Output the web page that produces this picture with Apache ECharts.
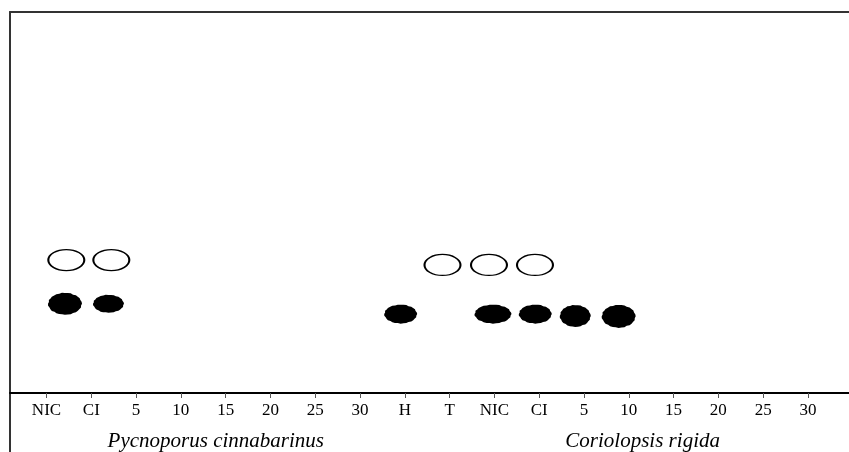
<!DOCTYPE html>
<html>
<head>
<meta charset="utf-8">
<script src="https://cdn.jsdelivr.net/npm/echarts@6/dist/echarts.min.js"></script>
<style>
html,body{margin:0;padding:0;background:#fff;}
#chart{width:849px;height:452px;}
</style>
</head>
<body>
<div id="chart"></div>
<script>
// ---- data ----
const categories = ['NIC','CI','5','10','15','20','25','30','H','T','NIC','CI','5','10','15','20','25','30'];
const groupNames = ['Pycnoporus cinnabarinus','Coriolopsis rigida'];
const groupCenters = [3.78, 13.31];
const openSpotX = [0.442, 1.447, 8.841, 9.879, 10.906];
const openSpotY = [0.349, 0.349, 0.336, 0.336, 0.336];
const solidSpotX = [0.413, 1.384, 7.908, 9.969, 10.913, 11.806, 12.775];
const solidSpotY = [0.234, 0.234, 0.207, 0.207, 0.207, 0.202, 0.201];

// ---- style ----
const FONT = "'Liberation Serif','Times New Roman',serif";
const X_MIN = -0.815, X_MAX = 17.917;
const openSize = [36, 21];
const solidSizes = [[34,22],[31,18],[33,19],[37,19],[33,19],[31,22],[34,23]];
const blobRadii = [1,0.96,1,0.97,0.99,1,0.95,1,0.98,1,0.96,0.99,1,0.95,1,0.98,0.96,1,0.99,0.95,1,0.97,1,0.98,
                   1,0.96,1,0.97,0.99,1,0.95,1,0.98,1,0.96,0.99];
function blobPath(){
  let s = 'path://';
  blobRadii.forEach((r,i)=>{
    const a = i*2*Math.PI/blobRadii.length;
    const x = (50 + 50*r*Math.cos(a)).toFixed(2);
    const y = (50 + 50*r*Math.sin(a)).toFixed(2);
    s += (i===0?'M':'L') + x + ' ' + y + ' ';
  });
  return s + 'Z';
}
const tickIdx = categories.map((_,i)=>i);

const chart = echarts.init(document.getElementById('chart'), null, {renderer:'canvas'});
chart.setOption({
  animation:false,
  backgroundColor:'#fff',
  grid:[
    {left:10, right:0, top:12, bottom:59},
    {left:10, right:0, top:12, bottom:0}
  ],
  xAxis:[
    { // main bottom axis
      type:'value', gridIndex:0, min:X_MIN, max:X_MAX, position:'bottom',
      axisLine:{show:true, onZero:false, lineStyle:{color:'#000', width:2}},
      axisTick:{show:true, customValues:tickIdx, length:5, lineStyle:{color:'#555', width:1}},
      axisLabel:{show:true, customValues:tickIdx, margin:9, color:'#000', fontFamily:FONT, fontSize:17,
        formatter:v=>categories[Math.round(v)]},
      splitLine:{show:false}
    },
    { // group labels
      type:'value', gridIndex:0, min:X_MIN, max:X_MAX, position:'bottom', offset:38,
      axisLine:{show:false}, axisTick:{show:false},
      axisLabel:{show:true, customValues:groupCenters, margin:0, color:'#000', fontFamily:FONT, fontSize:21, fontStyle:'italic',
        formatter:v=>groupNames[groupCenters.indexOf(v)]},
      splitLine:{show:false}
    },
    { // top border
      type:'value', gridIndex:0, min:X_MIN, max:X_MAX, position:'top',
      axisLine:{show:true, onZero:false, lineStyle:{color:'#333', width:2}},
      axisTick:{show:false}, axisLabel:{show:false}, splitLine:{show:false}
    },
    {
      type:'value', gridIndex:1, min:0, max:1, show:false
    }
  ],
  yAxis:[
    {type:'value', gridIndex:0, min:0, max:1, axisLine:{show:false}, axisTick:{show:false}, axisLabel:{show:false}, splitLine:{show:false}},
    {type:'value', gridIndex:1, min:0, max:1, position:'left',
      axisLine:{show:true, onZero:false, lineStyle:{color:'#333', width:2}},
      axisTick:{show:false}, axisLabel:{show:false}, splitLine:{show:false}}
  ],
  series:[
    {
      type:'scatter', xAxisIndex:0, yAxisIndex:0,
      data: openSpotX.map((x,i)=>[x, openSpotY[i]]),
      symbol:'circle', symbolSize:openSize,
      itemStyle:{color:'#fff', borderColor:'#000', borderWidth:1.6, opacity:1},
      emphasis:{disabled:true}
    },
    {
      type:'scatter', xAxisIndex:0, yAxisIndex:0,
      data: solidSpotX.map((x,i)=>[x, solidSpotY[i]]),
      symbol: blobPath(),
      symbolSize:(val, p)=>solidSizes[p.dataIndex],
      itemStyle:{color:'#000', opacity:1},
      emphasis:{disabled:true}
    }
  ]
});
</script>
</body>
</html>
